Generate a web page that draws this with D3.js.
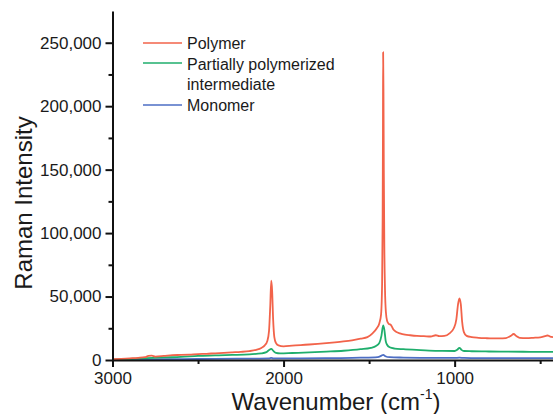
<!DOCTYPE html>
<html>
<head>
  <meta charset="utf-8">
  <style>
    body { margin: 0; background: #fff; }
    svg { display: block; font-family: "Liberation Sans", Arial, sans-serif; }
    .tick text { font-size: 17px; fill: #1a1a1a; }
    .axis-label { font-size: 24px; fill: #1a1a1a; }
    .legend-text { font-size: 16px; fill: #1a1a1a; }
  </style>
  <script src="https://d3js.org/d3.v7.min.js"></script>
</head>
<body>
  <div id="chartContainer"></div>
  <script>
    // spectra: [wavenumber, intensity]
    var polymer = [
      [3000, 600], [2950, 900], [2900, 1300], [2850, 1700], [2810, 2200], [2790, 3200],
      [2770, 3400], [2750, 2700], [2700, 3200], [2650, 3800], [2600, 4000], [2550, 4300],
      [2500, 4700], [2450, 4900], [2400, 5300], [2350, 5600], [2300, 6000], [2250, 6400],
      [2200, 7000], [2160, 8000], [2130, 9500], [2110, 11500], [2095, 15000], [2085, 23000],
      [2078, 42000], [2072, 62500], [2067, 55000], [2061, 32000], [2054, 18000], [2045, 13500],
      [2030, 11500], [2000, 10800], [1950, 11300], [1900, 11800], [1850, 12200], [1800, 12700],
      [1750, 13300], [1700, 13900], [1650, 14600], [1600, 15500], [1550, 16800], [1510, 18000],
      [1480, 21000], [1455, 25000], [1440, 29000], [1430, 36000], [1424, 60000], [1421, 110000],
      [1419, 180000], [1418, 242500], [1416, 212000], [1414, 150000], [1411, 90000], [1407, 55000],
      [1402, 38000], [1395, 31000], [1385, 28500], [1372, 27500], [1358, 24000], [1340, 22000],
      [1320, 21000], [1290, 20000], [1260, 19500], [1220, 19000], [1180, 18800], [1140, 18500],
      [1110, 19500], [1090, 18800], [1060, 19000], [1030, 21000], [1005, 25000], [990, 32000],
      [980, 44000], [972, 48600], [964, 44000], [956, 30000], [946, 22000], [930, 19000],
      [900, 18000], [860, 17500], [820, 17200], [780, 17000], [740, 17000], [700, 17300],
      [672, 19000], [655, 20500], [640, 19000], [620, 17500], [580, 17300], [540, 17500],
      [500, 17800], [472, 18800], [457, 19300], [442, 18500], [425, 18000]
    ];
    var intermediate = [
      [3000, 300], [2900, 800], [2800, 1400], [2700, 2000], [2600, 2400], [2500, 3200],
      [2400, 3600], [2300, 4000], [2200, 4500], [2130, 5200], [2100, 6200], [2085, 7800],
      [2072, 8700], [2060, 7200], [2045, 5600], [2020, 5200], [1950, 5500], [1850, 6000],
      [1750, 6600], [1650, 7300], [1550, 8500], [1490, 9600], [1460, 11000], [1440, 13500],
      [1428, 19000], [1418, 27300], [1411, 24000], [1403, 15000], [1395, 12000], [1380, 10000],
      [1350, 9000], [1300, 8500], [1200, 7800], [1100, 7200], [1000, 7100], [985, 8000],
      [972, 9600], [960, 8000], [945, 7100], [900, 6900], [800, 6700], [700, 6600],
      [600, 6500], [500, 6400], [425, 6400]
    ];
    var monomer = [
      [3000, 200], [2800, 500], [2600, 700], [2400, 900], [2200, 1100], [2085, 1300],
      [2072, 1700], [2060, 1300], [1900, 1300], [1700, 1500], [1550, 1800], [1450, 2300],
      [1428, 3400], [1417, 4100], [1405, 3000], [1380, 2200], [1300, 1900], [1200, 1700],
      [1000, 1600], [972, 1800], [945, 1600], [800, 1500], [600, 1500], [425, 1500]
    ];

    var seriesNames = ["Polymer", "Partially polymerized\nintermediate", "Monomer"];
    var seriesColors = ["#f2634a", "#1fae6c", "#4d6ec4"];
    var seriesData = [polymer, intermediate, monomer];

    var xMajorTicks = [3000, 2000, 1000];
    var xMinorTicks = [2500, 1500, 500];
    var yMajorTicks = [0, 50000, 100000, 150000, 200000, 250000];
    var yMinorTicks = [25000, 75000, 125000, 175000, 225000];

    var svgWidth = 553;
    var svgHeight = 414;

    var svg = d3.select("#chartContainer")
      .append("svg")
      .attr("width", svgWidth)
      .attr("height", svgHeight);

    var xScale = d3.scaleLinear()
      .domain([3000, 425])
      .range([112.5, 553]);

    var yScale = d3.scaleLinear()
      .domain([0, 275000])
      .range([360, 11]);

    var fmt = d3.format(",");

    // lines first, axes drawn on top
    var line = d3.line()
      .x(function (d) { return xScale(d[0]); })
      .y(function (d) { return yScale(d[1]); })
      .curve(d3.curveMonotoneX);

    var order = [2, 1, 0];
    order.forEach(function (i) {
      svg.append("path")
        .datum(seriesData[i])
        .attr("fill", "none")
        .attr("stroke", seriesColors[i])
        .attr("stroke-width", 1.8)
        .attr("stroke-linejoin", "round")
        .attr("d", line);
    });

    // minor ticks
    svg.append("g")
      .attr("transform", "translate(0,360)")
      .call(d3.axisBottom(xScale).tickValues(xMinorTicks).tickSize(4).tickSizeOuter(0).tickFormat(""))
      .call(function (g) { g.select(".domain").remove(); })
      .selectAll("line").attr("stroke-width", 2).attr("stroke", "#111");

    svg.append("g")
      .attr("transform", "translate(112.5,0)")
      .call(d3.axisLeft(yScale).tickValues(yMinorTicks).tickSize(4).tickSizeOuter(0).tickFormat(""))
      .call(function (g) { g.select(".domain").remove(); })
      .selectAll("line").attr("stroke-width", 2).attr("stroke", "#111");

    // major axes
    var xAxis = svg.append("g")
      .attr("transform", "translate(0,360)")
      .call(d3.axisBottom(xScale).tickValues(xMajorTicks).tickSize(7).tickPadding(5).tickSizeOuter(0)
        .tickFormat(d3.format("d")));

    var yAxis = svg.append("g")
      .attr("transform", "translate(112.5,0)")
      .call(d3.axisLeft(yScale).tickValues(yMajorTicks).tickSize(7).tickPadding(4).tickSizeOuter(0)
        .tickFormat(fmt));

    [xAxis, yAxis].forEach(function (g) {
      g.select(".domain").attr("stroke", "#111").attr("stroke-width", 2);
      g.selectAll(".tick line").attr("stroke", "#111").attr("stroke-width", 2);
      g.selectAll(".tick text").style("font-size", "17px").attr("fill", "#1a1a1a");
      g.attr("font-family", null).attr("font-size", null);
    });

    // axis titles
    svg.append("text")
      .attr("class", "axis-label")
      .attr("transform", "translate(32,203) rotate(-90)")
      .attr("text-anchor", "middle")
      .text("Raman Intensity");

    var xTitle = svg.append("text")
      .attr("class", "axis-label")
      .attr("x", 336)
      .attr("y", 410)
      .attr("text-anchor", "middle");
    xTitle.append("tspan").text("Wavenumber (cm");
    xTitle.append("tspan").attr("dy", -11).style("font-size", "14px").text("-1");
    xTitle.append("tspan").attr("dy", 11).text(")");

    // legend
    var legendRows = [43, 63, 105];
    var legendTextY = [[49], [70, 90], [111]];
    seriesNames.forEach(function (name, i) {
      svg.append("line")
        .attr("x1", 143).attr("x2", 182)
        .attr("y1", legendRows[i]).attr("y2", legendRows[i])
        .attr("stroke", seriesColors[i])
        .attr("stroke-width", 1.6);
      name.split("\n").forEach(function (part, j) {
        svg.append("text")
          .attr("class", "legend-text")
          .attr("x", 187)
          .attr("y", legendTextY[i][j])
          .text(part);
      });
    });
  </script>
</body>
</html>
